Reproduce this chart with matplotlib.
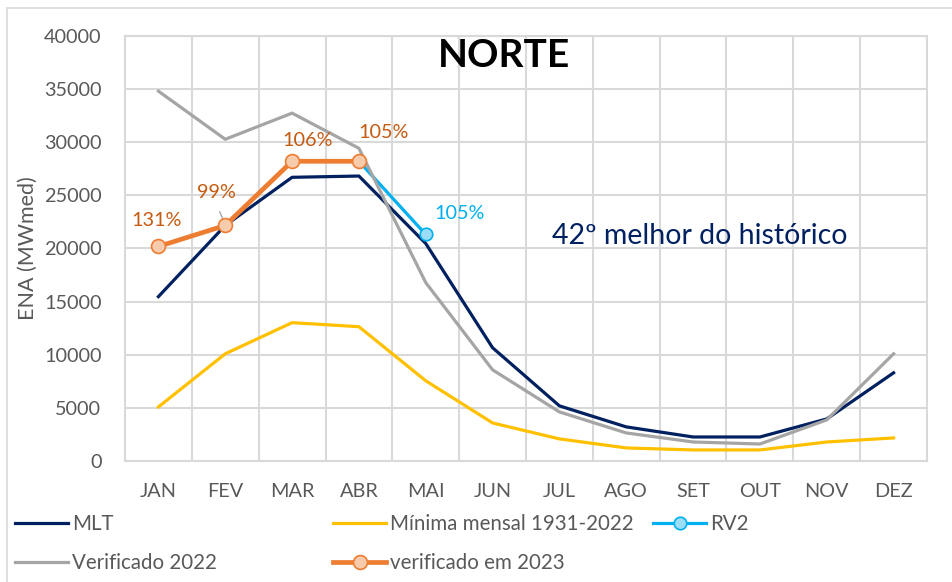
import matplotlib
matplotlib.use("Agg")
import matplotlib.pyplot as plt
from matplotlib.lines import Line2D

plt.rcParams['font.family'] = ['Lato', 'DejaVu Sans']

months = ["JAN", "FEV", "MAR", "ABR", "MAI", "JUN", "JUL", "AGO", "SET", "OUT", "NOV", "DEZ"]
mlt = [15470, 22170, 26700, 26820, 20470, 10660, 5190, 3210, 2260, 2260, 3960, 8300]
minima = [5090, 10090, 13020, 12640, 7550, 3580, 2080, 1230, 1040, 1040, 1790, 2170]
verif_2022 = [34810, 30280, 32740, 29430, 16790, 8580, 4620, 2640, 1790, 1600, 3870, 10090]
verif_2023 = [20190, 22170, 28210, 28210]
rv2_months = ["ABR", "MAI"]
rv2 = [28210, 21320]
pct_2023 = ["131%", "99%", "106%", "105%"]
pct_rv2 = "105%"

W, H = 952, 582
fig = plt.figure(figsize=(W / 100, H / 100), dpi=100)
ax = fig.add_axes([125 / W, 1 - 461 / H, (927 - 125) / W, (461 - 36) / H])

x = list(range(len(months)))
idx = {m: i for i, m in enumerate(months)}

GRID = "#D9D9D9"
TXT = "#595959"
FS = 14.3

l_mlt, = ax.plot(x, mlt, color="#002060", lw=2.3, zorder=3)
l_min, = ax.plot(x, minima, color="#FFC000", lw=2.3, zorder=3)
rx = [idx[m] for m in rv2_months]
l_rv2, = ax.plot(rx, rv2, color="#00B0F0", lw=2.3, marker="o", ms=9,
                 mfc="#9BDDF7", mec="#00B0F0", mew=1.2, zorder=4)
l_v22, = ax.plot(x, verif_2022, color="#A5A5A5", lw=2.3, zorder=5)
x23 = x[:len(verif_2023)]
l_v23, = ax.plot(x23, verif_2023, color="#ED7D31", lw=3.4, marker="o", ms=10,
                 mfc="#F8CBAD", mec="#ED7D31", mew=1.2, zorder=6)

ax.set_xlim(-0.5, len(months) - 0.5)
ax.set_ylim(0, 40000)
ax.set_yticks(range(0, 40001, 5000))
ax.set_xticks(x)
ax.set_xticklabels(months)
ax.set_xticks([i + 0.5 for i in range(len(months) - 1)], minor=True)
ax.grid(True, which="major", axis="y", color=GRID, lw=1.5)
ax.grid(True, which="minor", axis="x", color=GRID, lw=1.5)
ax.set_axisbelow(True)
for s in ax.spines.values():
    s.set_color(GRID)
    s.set_linewidth(1.5)
ax.tick_params(axis="both", which="both", length=0, labelsize=FS, colors=TXT)
ax.tick_params(axis="y", pad=17)
ax.tick_params(axis="x", pad=16)
ax.set_ylabel("ENA (MWmed)", fontsize=15.5, color=TXT, labelpad=4)

# data labels
offsets = [(-1, 19), (-6, 24), (11, 15), (18, 21)]
lab_col = "#C55A11"
for i, (lab, off) in enumerate(zip(pct_2023, offsets)):
    ax.annotate(lab, (x23[i], verif_2023[i]), xytext=off, textcoords="offset points",
                ha="center", va="center", fontsize=FS, color=lab_col, zorder=7)
# leader line for 99%
ax.annotate("", (x23[1], verif_2023[1]), xytext=(-4, 10), textcoords="offset points",
            arrowprops=dict(arrowstyle="-", color="#A5A5A5", lw=1, shrinkA=0, shrinkB=4))
ax.annotate(pct_rv2, (rx[1], rv2[1]), xytext=(24, 15), textcoords="offset points",
            ha="center", va="center", fontsize=FS, color="#00B0F0", zorder=7)

ax.text(0.4725, 0.955, "NORTE", transform=ax.transAxes, ha="center", va="center",
        fontsize=28, fontweight="bold", color="black")
ax.text(0.717, 0.53, "42º melhor do histórico", transform=ax.transAxes, ha="center",
        va="center", fontsize=20.5, color="#002060")

# legend entries
entries = [(l_mlt, "MLT", 15, 524), (l_min, "Mínima mensal 1931-2022", 333, 524),
           (l_rv2, "RV2", 653, 524), (l_v22, "Verificado 2022", 15, 563),
           (l_v23, "verificado em 2023", 333, 563)]
LFS = 14.8
for h, lab, px, py in entries:
    fig.legend([h], [lab], loc="center left", bbox_to_anchor=(px / W, 1 - py / H),
               frameon=False, borderpad=0, borderaxespad=0, handlelength=53 / (LFS * 100 / 72),
               handletextpad=0.2, fontsize=LFS, labelcolor=TXT)

# outer frame
fig.add_artist(Line2D([7 / W, 7 / W], [0, 1 - 8 / H], color=GRID, lw=1.2))
fig.add_artist(Line2D([7 / W, 1], [1 - 8 / H, 1 - 8 / H], color=GRID, lw=1.2))

fig.savefig("out.png", dpi=100)
